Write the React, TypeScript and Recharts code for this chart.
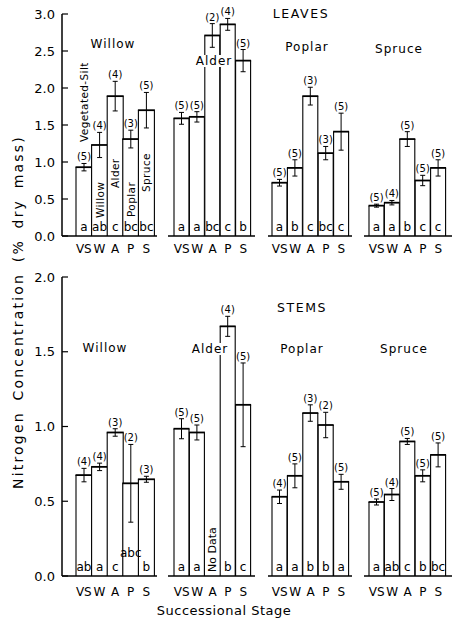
import React from "react";
import { BarChart, Bar, XAxis, YAxis, ErrorBar, LabelList } from "recharts";

const FONT = '"DejaVu Sans", sans-serif';

const stages = ["VS", "W", "A", "P", "S"];
const stageNames = ["Vegetated-Silt", "Willow", "Alder", "Poplar", "Spruce"];
const species = ["Willow", "Alder", "Poplar", "Spruce"];

const leafTicks = [0, 0.5, 1, 1.5, 2, 2.5, 3];
const stemTicks = [0, 0.5, 1, 1.5, 2];

// leaves: rows = species, cols = stages
const leafMean = [
  [0.93, 1.23, 1.89, 1.31, 1.7],
  [1.59, 1.61, 2.71, 2.86, 2.37],
  [0.72, 0.92, 1.89, 1.12, 1.41],
  [0.41, 0.45, 1.31, 0.75, 0.92],
];
const leafErr = [
  [0.05, 0.17, 0.2, 0.12, 0.24],
  [0.08, 0.07, 0.16, 0.08, 0.15],
  [0.045, 0.11, 0.12, 0.09, 0.25],
  [0.02, 0.03, 0.1, 0.07, 0.11],
];
const leafN = [
  [5, 4, 4, 3, 5],
  [5, 5, 2, 4, 5],
  [5, 5, 3, 3, 5],
  [5, 4, 5, 5, 5],
];
const leafSig = [
  ["a", "ab", "c", "bc", "bc"],
  ["a", "a", "bc", "c", "b"],
  ["a", "b", "c", "bc", "c"],
  ["a", "a", "b", "c", "c"],
];

// stems (alder stems at the alder stage: no data)
const stemMean = [
  [0.675, 0.73, 0.96, 0.62, 0.647],
  [0.985, 0.96, null, 1.67, 1.145],
  [0.53, 0.67, 1.09, 1.01, 0.63],
  [0.495, 0.545, 0.9, 0.67, 0.81],
];
const stemErr = [
  [0.045, 0.025, 0.025, 0.26, 0.02],
  [0.067, 0.05, null, 0.067, 0.28],
  [0.045, 0.08, 0.055, 0.085, 0.05],
  [0.02, 0.04, 0.02, 0.04, 0.08],
];
const stemN = [
  [4, 4, 3, 2, 3],
  [5, 5, null, 4, 5],
  [4, 5, 3, 2, 5],
  [5, 4, 5, 5, 5],
];
const stemSig = [
  ["ab", "a", "c", "abc", "b"],
  ["a", "a", "", "b", "c"],
  ["a", "a", "b", "b", "a"],
  ["a", "ab", "c", "b", "bc"],
];

// horizontal layout of the four groups (baseline segments)
const groupBoxes = [
  { left: 0, width: 157, padL: 14, padR: 3 },
  { left: 168, width: 87, padL: 6, padR: 4 },
  { left: 268, width: 84, padL: 4, padR: 3 },
  { left: 364, width: 88, padL: 5, padR: 6 },
];

const panels = [
  {
    title: "LEAVES", titlePos: [301, 14],
    top: 0, height: 260, marginTop: 14, max: 3, ticks: leafTicks, tickGap: 8,
    mean: leafMean, err: leafErr, n: leafN, sig: leafSig,
    speciesPos: [[113, 44], [214, 61], [307, 47], [399, 49]],
  },
  {
    title: "STEMS", titlePos: [302, 308],
    top: 260, height: 340, marginTop: 17, max: 2, ticks: stemTicks, tickGap: 11,
    mean: stemMean, err: stemErr, n: stemN, sig: stemSig,
    speciesPos: [[105, 348], [210, 349], [302, 349], [404, 349]],
  },
];

// how far above the baseline the stage names start inside the willow leaf bars
const stageNameLift = [94, 18, 48, 19, 44];

const BarShape = (p: any) => {
  const { x, y, width, height } = p;
  if (height == null || !(height > 0)) return null;
  const b = y + height;
  return (
    <g>
      <rect x={x} y={y} width={width} height={height} fill="#fff" />
      <path d={`M${x},${b}V${y}M${x + width},${b}V${y}`} stroke="#000" strokeWidth={1.1} fill="none" />
      <line x1={x - 0.5} x2={x + width + 0.5} y1={y} y2={y} stroke="#000" strokeWidth={1.8} />
    </g>
  );
};

function Group({ panel, g, showNames }: any) {
  const box = groupBoxes[g];
  const rows = stages.map((s, i) => ({
    i,
    stage: s,
    mean: panel.mean[g][i],
    err: panel.err[g][i],
    n: panel.n[g][i],
    sig: panel.sig[g][i],
  }));
  const baseY = panel.height - 24;

  const nLabel = (props: any) => {
    const { x, y, width, height, value } = props;
    const r = rows[value];
    if (!r || r.mean == null || r.n == null) return null;
    const ppu = height / r.mean;
    const top = y - (r.err || 0) * ppu;
    return (
      <text x={x + width / 2} y={top - 3} textAnchor="middle" fontSize={10} fontFamily={FONT} fill="#000">
        ({r.n})
      </text>
    );
  };

  const sigLabel = (props: any) => {
    const { x, width, value } = props;
    const r = rows[value];
    if (!r) return null;
    const cx = x + width / 2;
    if (r.mean == null) {
      return (
        <text x={cx + 4} y={baseY - 4} transform={`rotate(-90 ${cx + 4} ${baseY - 4})`} fontSize={11} fontFamily={FONT} fill="#000">
          No Data
        </text>
      );
    }
    const lift = r.sig.length > 2 ? 19 : 5;
    return (
      <text x={cx} y={baseY - lift} textAnchor="middle" fontSize={12} fontFamily={FONT} fill="#000">
        {r.sig}
      </text>
    );
  };

  const nameLabel = (props: any) => {
    const { x, width, value } = props;
    const cx = x + width / 2 + 4;
    const sy = baseY - stageNameLift[value];
    return (
      <text x={cx} y={sy} transform={`rotate(-90 ${cx} ${sy})`} fontSize={10.5} letterSpacing={0.4} fontFamily={FONT} fill="#000">
        {stageNames[value]}
      </text>
    );
  };

  return (
    <div style={{ position: "absolute", left: box.left, top: panel.top }}>
      <BarChart
        width={box.width}
        height={panel.height}
        data={rows}
        margin={{ top: panel.marginTop, right: 0, bottom: 0, left: 0 }}
        barCategoryGap={0}
        barGap={0}
      >
        <XAxis
          dataKey="stage"
          height={24}
          interval={0}
          padding={{ left: box.padL, right: box.padR }}
          axisLine={{ stroke: "#000", strokeWidth: 1.5 }}
          tickLine={false}
          tickSize={0}
          tickMargin={panel.tickGap}
          tick={{ fill: "#000", fontSize: 12, fontFamily: FONT }}
        />
        <YAxis
          hide={g !== 0}
          width={62}
          type="number"
          domain={[0, panel.max]}
          ticks={panel.ticks}
          interval={0}
          tickFormatter={(v: number) => v.toFixed(1)}
          tickSize={-6}
          tickMargin={13}
          axisLine={{ stroke: "#000", strokeWidth: 1.5 }}
          tickLine={{ stroke: "#000", strokeWidth: 1.2 }}
          tick={{ fill: "#000", fontSize: 13, fontFamily: FONT }}
        />
        <Bar dataKey={(d: any) => (d.mean == null ? 0 : d.mean)} shape={BarShape} isAnimationActive={false}>
          <ErrorBar dataKey="err" width={2.5} stroke="#000" strokeWidth={1} direction="y" />
          <LabelList dataKey="i" content={nLabel} />
          <LabelList dataKey="i" content={sigLabel} />
          {showNames && <LabelList dataKey="i" content={nameLabel} />}
        </Bar>
      </BarChart>
    </div>
  );
}

const textStyle = (x: number, y: number, size: number, spacing: number): React.CSSProperties => ({
  position: "absolute",
  left: x,
  top: y,
  transform: "translate(-50%, -50%)",
  fontFamily: FONT,
  fontSize: size,
  letterSpacing: spacing,
  whiteSpace: "nowrap",
  color: "#000",
  lineHeight: 1,
});

export default function App() {
  return (
    <div style={{ position: "absolute", left: 0, top: 0, width: 455, height: 618, background: "#fff", overflow: "hidden" }}>
      <style>{`.recharts-surface{overflow:visible}`}</style>
      {panels.map((panel, pi) =>
        species.map((sp, g) => (
          <Group key={`${pi}-${sp}`} panel={panel} g={g} showNames={pi === 0 && g === 0} />
        ))
      )}
      {panels.map((panel) => (
        <React.Fragment key={panel.title}>
          <div style={textStyle(panel.titlePos[0], panel.titlePos[1], 12.5, 1.6)}>{panel.title}</div>
          {species.map((sp, g) => (
            <div
              key={sp}
              style={{ ...textStyle(panel.speciesPos[g][0], panel.speciesPos[g][1], 12, 1), background: "#fff", padding: "0 1px" }}
            >
              {sp}
            </div>
          ))}
        </React.Fragment>
      ))}
      <div style={{ ...textStyle(18, 312, 14, 2.2), wordSpacing: 4, transform: "translate(-50%, -50%) rotate(-90deg)" }}>
        Nitrogen Concentration (% dry mass)
      </div>
      <div style={textStyle(224, 610, 13, 0.5)}>Successional Stage</div>
    </div>
  );
}
